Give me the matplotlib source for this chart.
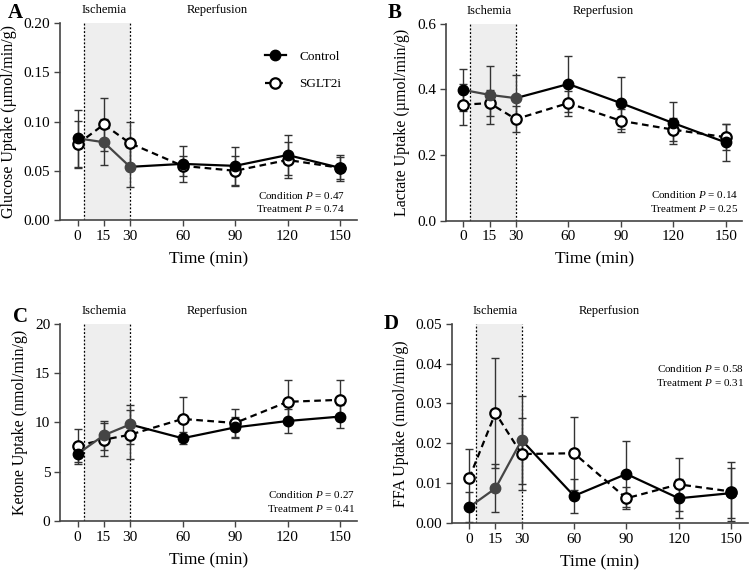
import numpy as np
import matplotlib
matplotlib.use("Agg")
import matplotlib.pyplot as plt
import matplotlib.transforms as mtransforms
from matplotlib.lines import Line2D

plt.rcParams["font.family"] = ["Liberation Serif", "DejaVu Serif"]
plt.rcParams["mathtext.fontset"] = "custom"
plt.rcParams["mathtext.rm"] = "Liberation Serif"
plt.rcParams["mathtext.it"] = "Liberation Serif:italic"

time_min = [0, 15, 30, 60, 90, 120, 150]

# panel A - glucose (umol/min/g)
glucose_ctrl = [0.083, 0.079, 0.054, 0.057, 0.055, 0.066, 0.053]
glucose_ctrl_err = [0.029, 0.0235, 0.020, 0.018, 0.019, 0.0205, 0.013]
glucose_sglt = [0.077, 0.097, 0.078, 0.055, 0.050, 0.061, 0.053]
glucose_sglt_err = [0.024, 0.027, 0.022, 0.0105, 0.015, 0.018, 0.011]

# panel B - lactate (umol/min/g)
lactate_ctrl = [0.398, 0.383, 0.373, 0.416, 0.358, 0.297, 0.238]
lactate_ctrl_err = [0.064, 0.089, 0.070, 0.086, 0.078, 0.064, 0.056]
lactate_sglt = [0.353, 0.358, 0.309, 0.358, 0.304, 0.277, 0.254]
lactate_sglt_err = [0.062, 0.039, 0.040, 0.038, 0.035, 0.035, 0.040]

# panel C - ketone (nmol/min/g)
ketone_ctrl = [6.8, 8.7, 9.8, 8.4, 9.5, 10.15, 10.6]
ketone_ctrl_err = [1.0, 1.5, 2.0, 0.6, 1.1, 1.2, 1.2]
ketone_sglt = [7.65, 8.25, 8.76, 10.36, 9.95, 12.1, 12.3]
ketone_sglt_err = [1.7, 1.7, 2.5, 2.2, 1.4, 2.2, 2.0]

# panel D - FFA (nmol/min/g)
ffa_ctrl = [0.0040, 0.0087, 0.0208, 0.0068, 0.0123, 0.0062, 0.0075]
ffa_ctrl_err = [0.0037, 0.0060, 0.0110, 0.0042, 0.0083, 0.0049, 0.0062]
ffa_sglt = [0.0113, 0.0276, 0.0173, 0.0175, 0.0062, 0.0097, 0.0079]
ffa_sglt_err = [0.0073, 0.0137, 0.0090, 0.0091, 0.0028, 0.0067, 0.0074]

panels = [
    ("A", "Glucose Uptake (µmol/min/g)", glucose_ctrl, glucose_ctrl_err,
     glucose_sglt, glucose_sglt_err, [0, 0.05, 0.10, 0.15, 0.20], "{:.2f}",
     ("0.47", "0.74"), [0.0797, 0.618, 0.394, 0.342], (0.96, 0.127), (15, 13)),
    ("B", "Lactate Uptake (µmol/min/g)", lactate_ctrl, lactate_ctrl_err,
     lactate_sglt, lactate_sglt_err, [0, 0.2, 0.4, 0.6], "{:.1f}",
     ("0.14", "0.25"), [0.592, 0.617, 0.394, 0.342], (0.987, 0.13), (395, 13)),
    ("C", "Ketone Uptake (nmol/min/g)", ketone_ctrl, ketone_ctrl_err,
     ketone_sglt, ketone_sglt_err, [0, 5, 10, 15, 20], "{:.0f}",
     ("0.27", "0.41"), [0.0797, 0.0955, 0.394, 0.342], (0.993, 0.132), (20, 317)),
    ("D", "FFA Uptake (nmol/min/g)", ffa_ctrl, ffa_ctrl_err,
     ffa_sglt, ffa_sglt_err, [0, 0.01, 0.02, 0.03, 0.04, 0.05], "{:.2f}",
     ("0.58", "0.31"), [0.600, 0.092, 0.393, 0.346], (0.986, 0.774), (391, 324)),
]

GRAY = "#454545"
fig = plt.figure(figsize=(7.53, 5.76), dpi=100)

for (letter, ylabel, ctrl, ctrl_err, sglt, sglt_err, yticks, yfmt, pvals,
     rect, ptxt, lpos) in panels:
    ax = fig.add_axes(rect)
    t = np.array(time_min)

    ax.axvspan(3.7, 30, color="#eeeeee", zorder=0, lw=0)
    for xv in (3.7, 30):
        ax.axvline(xv, color="black", ls=(0, (1.5, 1.5)), lw=0.9, zorder=1)

    ax.errorbar(t, sglt, yerr=sglt_err, fmt="none", ecolor="#333333",
                elinewidth=1, capsize=3, capthick=1, zorder=2)
    ax.errorbar(t, ctrl, yerr=ctrl_err, fmt="none", ecolor="#333333",
                elinewidth=1, capsize=3, capthick=1, zorder=2)

    ax.plot(t, sglt, color="black", lw=1.6, ls=(0, (3, 2)), zorder=3)
    ax.plot(t, sglt, "o", ms=7.5, mfc="white", mec="black", mew=1.6,
            zorder=4)

    # control: ischemic part drawn in dark grey
    ax.plot(t[:3], ctrl[:3], color=GRAY, lw=1.6, zorder=5)
    ax.plot(t[2:], ctrl[2:], color="black", lw=1.6, zorder=5)
    ax.plot(t[1:3], ctrl[1:3], "o", ms=7.5, color=GRAY, zorder=6)
    ax.plot(t[[0, 3, 4, 5, 6]], np.array(ctrl)[[0, 3, 4, 5, 6]], "o", ms=7.5,
            color="black", zorder=6)

    ax.set_xlim(-10, 159.5)
    ax.set_ylim(yticks[0], yticks[-1])
    ax.set_xticks(time_min)
    ax.set_yticks(yticks)
    ax.set_yticklabels([yfmt.format(v) for v in yticks])
    ax.tick_params(axis="both", labelsize=11, length=4, width=1,
                   color="#444444", direction="out", pad=3)
    for s in ("top", "right"):
        ax.spines[s].set_visible(False)
    for s in ("left", "bottom"):
        ax.spines[s].set_color("#444444")
        ax.spines[s].set_linewidth(1.2)

    ax.set_xlabel("Time (min)", fontsize=12.5, labelpad=6)
    ax.set_ylabel(ylabel, fontsize=11.5, labelpad=5)

    trans = mtransforms.blended_transform_factory(ax.transData, ax.transAxes)
    ax.text(15, 1.065, "Ischemia", transform=trans, ha="center", va="center",
            fontsize=9)
    ax.text(80, 1.065, "Reperfusion", transform=trans, ha="center",
            va="center", fontsize=9)

    px, py = ptxt
    ax.text(px, py, "Condition $P$ = " + pvals[0], transform=ax.transAxes,
            ha="right", va="center", fontsize=8)
    ax.text(px, py - 0.07, "Treatment $P$ = " + pvals[1],
            transform=ax.transAxes, ha="right", va="center", fontsize=8)

    fig.text(lpos[0] / 753, 1 - lpos[1] / 576, letter, ha="center",
             va="center", fontsize=15, fontweight="bold")

    if letter == "A":
        handles = [
            Line2D([], [], color="black", lw=1.6, marker="o", ms=7.5),
            Line2D([], [], color="black", lw=1.6, ls=(0, (3, 2)), marker="o",
                   ms=7.5, mfc="white", mec="black", mew=1.6),
        ]
        ax.legend(handles, ["Control", "SGLT2i"], loc="upper left",
                  bbox_to_anchor=(0.69, 0.86), frameon=False, fontsize=9.5,
                  handlelength=1.6, handletextpad=1.0, labelspacing=1.15,
                  borderpad=0, borderaxespad=0)

fig.savefig("out.png", dpi=100)
